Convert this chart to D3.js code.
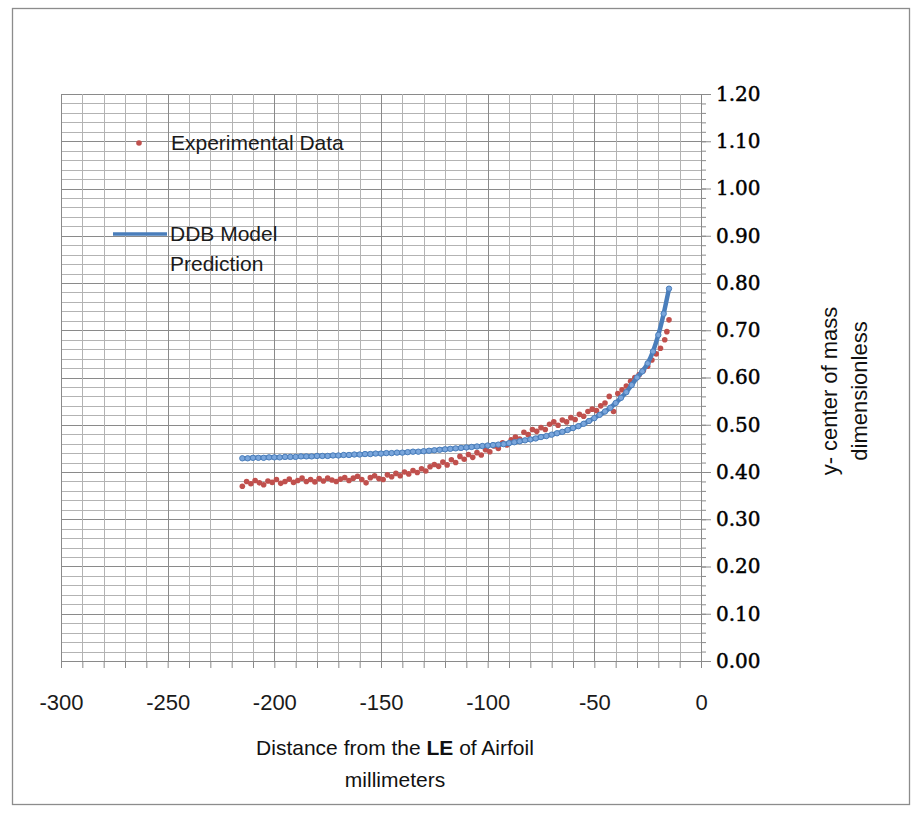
<!DOCTYPE html>
<meta charset="utf-8">
<script src="https://d3js.org/d3.v7.js"></script>
<style>
  body { margin: 0; background: #fff; }
</style>
<div id="my_dataviz"></div>
<script>

    // measured data (distance from LE in mm, dimensionless y center of mass)
    const expX = [-215,-213,-211,-209,-207,-205,-203,-201,-199,-197,-195,-193,-191,-189,-187,-185,-183,-181,-179,-177,
                  -175,-173,-171,-169,-167,-165,-163,-161,-159,-157,-155,-153,-151,-149,-147,-145,-143,-141,-139,-137,
                  -135,-133,-131,-129,-127,-125,-123,-121,-119,-117,-115,-113,-111,-109,-107,-105,-103,-101,-99,-97,
                  -95,-93,-91,-89,-87,-85,-83,-81,-79,-77,-75,-73,-71,-69,-67,-65,-63,-61,-59,-57,
                  -55,-53,-51,-49,-47,-45,-43,-41,-39,-37,-35,-33,-31,-29,-27,-25,-23,-21,-19,-17,-16,-15];
    const expY = [0.370,0.380,0.375,0.382,0.377,0.373,0.381,0.378,0.384,0.376,0.380,0.385,0.378,0.382,0.387,0.380,0.384,0.379,0.386,0.381,
                  0.387,0.383,0.380,0.385,0.388,0.382,0.387,0.391,0.384,0.377,0.388,0.392,0.386,0.384,0.394,0.390,0.397,0.392,0.400,0.396,
                  0.403,0.399,0.407,0.402,0.411,0.416,0.412,0.421,0.415,0.426,0.420,0.433,0.427,0.437,0.431,0.441,0.436,0.447,0.443,0.455,
                  0.450,0.462,0.457,0.468,0.474,0.470,0.484,0.479,0.490,0.486,0.494,0.490,0.501,0.506,0.499,0.510,0.506,0.515,0.511,0.522,
                  0.518,0.528,0.533,0.530,0.540,0.546,0.560,0.528,0.566,0.574,0.582,0.592,0.600,0.606,0.615,0.624,0.637,0.650,0.662,0.680,0.697,0.722];

    // DDB model prediction
    const modelX = [-215,-212.5,-210,-207.5,-205,-202.5,-200,-197.5,-195,-192.5,-190,-187.5,-185,-182.5,-180,-177.5,-175,-172.5,-170,-167.5,
                    -165,-162.5,-160,-157.5,-155,-152.5,-150,-147.5,-145,-142.5,-140,-137.5,-135,-132.5,-130,-127.5,-125,-122.5,-120,-117.5,
                    -115,-112.5,-110,-107.5,-105,-102.5,-100,-97.5,-95,-92.5,-90,-87.5,-85,-82.5,-80,-77.5,-75,-72.5,-70,-67.5,
                    -65,-62.5,-60,-57.5,-55,-52.5,-50,-47.5,-45,-42.5,-40,-37.5,-35,-32.5,-30,-27.5,-25,-22.5,-20,-17.5,-15];
    const modelY = [0.429,0.429,0.430,0.430,0.430,0.431,0.431,0.431,0.432,0.432,0.432,0.433,0.433,0.433,0.434,0.434,0.434,0.435,0.435,0.436,
                    0.436,0.437,0.437,0.438,0.438,0.439,0.439,0.440,0.440,0.441,0.441,0.442,0.443,0.443,0.444,0.445,0.446,0.447,0.448,0.449,
                    0.450,0.451,0.452,0.453,0.454,0.455,0.456,0.457,0.458,0.459,0.461,0.463,0.465,0.467,0.469,0.471,0.474,0.476,0.479,0.482,
                    0.485,0.489,0.493,0.497,0.502,0.508,0.514,0.521,0.528,0.536,0.546,0.557,0.569,0.584,0.600,0.613,0.630,0.655,0.690,0.735,0.788];

    const xMajorTicks = [-300,-250,-200,-150,-100,-50,0];
    const yMajorTicks = [0,0.1,0.2,0.3,0.4,0.5,0.6,0.7,0.8,0.9,1.0,1.1,1.2];
    const xMinorTicks = d3.range(-300, 1, 10);
    const yMinorTicks = d3.range(0, 61).map(i => i * 0.02);

    const W = 915, H = 813;
    const svg = d3.select("#my_dataviz")
      .append("svg")
        .attr("width", W)
        .attr("height", H);

    // outer chart border
    svg.append("rect")
      .attr("x", 12.5).attr("y", 8.5)
      .attr("width", 897).attr("height", 796)
      .attr("fill", "#fff")
      .attr("stroke", "#8c8c8c")
      .attr("stroke-width", 1.3);

    const x = d3.scaleLinear().domain([-300, 0]).range([61, 701]);
    const y = d3.scaleLinear().domain([0, 1.2]).range([661, 94]);

    // grid
    const grid = svg.append("g");
    grid.selectAll("line.h")
      .data(yMinorTicks)
      .join("line")
        .attr("x1", x(-300)).attr("x2", x(0))
        .attr("y1", d => Math.round(y(d)) + 0.5)
        .attr("y2", d => Math.round(y(d)) + 0.5)
        .attr("stroke", (d, i) => i % 5 === 0 ? "#8a8a8a" : "#b3b3b3")
        .attr("stroke-width", 1);
    grid.selectAll("line.v")
      .data(xMinorTicks)
      .join("line")
        .attr("y1", y(1.2)).attr("y2", y(0))
        .attr("x1", d => Math.round(x(d)) + 0.5)
        .attr("x2", d => Math.round(x(d)) + 0.5)
        .attr("stroke", d => d % 50 === 0 ? "#8a8a8a" : "#b3b3b3")
        .attr("stroke-width", 1);

    // X axis (minor ticks + labelled major ticks)
    svg.append("g")
      .attr("transform", `translate(0, ${y(0)})`)
      .call(d3.axisBottom(x).tickValues(xMinorTicks).tickSize(7).tickFormat(""))
      .call(g => g.select(".domain").attr("stroke", "#8a8a8a"))
      .call(g => g.selectAll("line").attr("stroke", "#8a8a8a"));

    svg.append("g")
      .attr("transform", `translate(0, ${y(0)})`)
      .call(d3.axisBottom(x).tickValues(xMajorTicks).tickSize(0).tickPadding(33).tickFormat(d => String(d)))
      .call(g => g.select(".domain").remove())
      .call(g => g.selectAll("text")
        .attr("font-family", "'Liberation Sans Narrow', 'Arial Narrow', 'Liberation Sans', sans-serif")
        .attr("font-size", 22)
        .attr("fill", "#1a1a1a"));

    // Y axis on the right, crossing at x = 0
    svg.append("g")
      .attr("transform", `translate(${x(0)}, 0)`)
      .call(d3.axisRight(y).tickValues(yMinorTicks).tickSize(5).tickFormat(""))
      .call(g => g.select(".domain").attr("stroke", "#8a8a8a"))
      .call(g => g.selectAll("line").attr("stroke", "#8a8a8a"));

    svg.append("g")
      .attr("transform", `translate(${x(0)}, 0)`)
      .call(d3.axisRight(y).tickValues(yMajorTicks).tickSize(10).tickPadding(5).tickFormat(d3.format(".2f")))
      .call(g => g.select(".domain").remove())
      .call(g => g.selectAll("line").attr("stroke", "#8a8a8a"))
      .call(g => g.selectAll("text")
        .attr("font-family", "'DejaVu Serif', serif")
        .attr("font-size", 20)
        .attr("fill", "#000")
        .attr("stroke", "#000")
        .attr("stroke-width", 0.45));

    // Experimental data
    const expData = expX.map((d, i) => ({x: d, y: expY[i]}));
    svg.append("g")
      .selectAll("circle")
      .data(expData)
      .join("circle")
        .attr("cx", d => x(d.x))
        .attr("cy", d => y(d.y))
        .attr("r", 2.8)
        .attr("fill", "#c0504d");

    // Model prediction
    const modelData = modelX.map((d, i) => ({x: d, y: modelY[i]}));
    svg.append("path")
      .datum(modelData)
      .attr("fill", "none")
      .attr("stroke", "#4a7ebb")
      .attr("stroke-width", 4.5)
      .attr("d", d3.line().x(d => x(d.x)).y(d => y(d.y)).curve(d3.curveMonotoneX));
    svg.append("g")
      .selectAll("circle")
      .data(modelData)
      .join("circle")
        .attr("cx", d => x(d.x))
        .attr("cy", d => y(d.y))
        .attr("r", 2.7)
        .attr("fill", "#7aa6dc")
        .attr("stroke", "#4a7ebb")
        .attr("stroke-width", 1);

    // legend
    const legendFont = "'Liberation Sans', Arial, sans-serif";
    svg.append("circle")
      .attr("cx", 139).attr("cy", 143).attr("r", 2.8)
      .attr("fill", "#c0504d");
    svg.append("text")
      .attr("x", 171).attr("y", 150)
      .attr("font-family", legendFont).attr("font-size", 21).attr("fill", "#1a1a1a")
      .text("Experimental Data");
    svg.append("line")
      .attr("x1", 113).attr("x2", 167).attr("y1", 234).attr("y2", 234)
      .attr("stroke", "#4a7ebb").attr("stroke-width", 3.5);
    svg.append("text")
      .attr("x", 170).attr("y", 241)
      .attr("font-family", legendFont).attr("font-size", 21).attr("fill", "#1a1a1a")
      .text("DDB Model");
    svg.append("text")
      .attr("x", 170).attr("y", 271)
      .attr("font-family", legendFont).attr("font-size", 21).attr("fill", "#1a1a1a")
      .text("Prediction");

    // axis titles
    const xTitle = svg.append("text")
      .attr("x", 395).attr("y", 755)
      .attr("text-anchor", "middle")
      .attr("font-family", legendFont).attr("font-size", 21).attr("fill", "#111");
    xTitle.append("tspan").text("Distance from the ");
    xTitle.append("tspan").attr("font-weight", "bold").text("LE");
    xTitle.append("tspan").text(" of Airfoil");
    svg.append("text")
      .attr("x", 395).attr("y", 787)
      .attr("text-anchor", "middle")
      .attr("font-family", legendFont).attr("font-size", 21).attr("fill", "#111")
      .text("millimeters");

    const yTitle = svg.append("g")
      .attr("transform", "translate(845, 391) rotate(-90)");
    yTitle.append("text")
      .attr("y", -8)
      .attr("text-anchor", "middle")
      .attr("font-family", legendFont).attr("font-size", 22).attr("fill", "#111")
      .text("y- center of mass");
    yTitle.append("text")
      .attr("y", 22)
      .attr("text-anchor", "middle")
      .attr("font-family", legendFont).attr("font-size", 22).attr("fill", "#111")
      .text("dimensionless");

</script>
